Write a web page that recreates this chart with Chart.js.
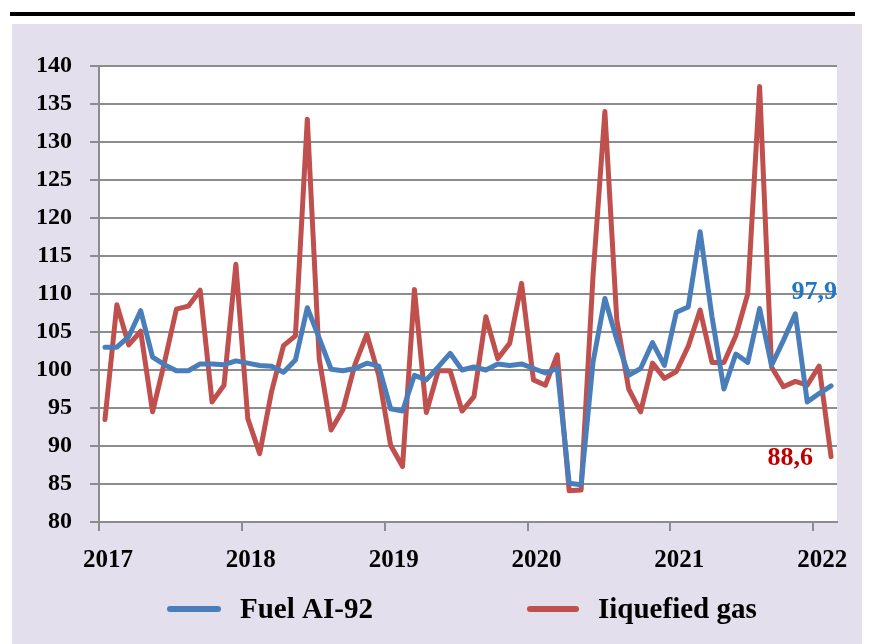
<!DOCTYPE html>
<html>
<head>
<meta charset="utf-8">
<script src="https://cdn.jsdelivr.net/npm/chart.js@4/dist/chart.umd.min.js"></script>
<style>
  html, body { margin: 0; padding: 0; background: #fff; }
  canvas { display: block; }
</style>
</head>
<body>
<canvas id="c" width="870" height="644"></canvas>
<script>
// monthly index, Jan 2017 .. Feb 2022
const years = ["2017", "2018", "2019", "2020", "2021", "2022"];
const months = [];
years.forEach(y => {
  for (let m = 1; m <= 12; m++) months.push(y + "-" + String(m).padStart(2, "0"));
});
months.length = 62;

const fuel = [
  103.0, 103.0, 104.4, 107.8, 101.7, 100.7, 99.9, 99.9, 100.8, 100.8, 100.7, 101.2,
  100.9, 100.6, 100.5, 99.7, 101.3, 108.2, 104.2, 100.1, 99.9, 100.2, 100.9, 100.5,
  94.9, 94.6, 99.3, 98.7, 100.4, 102.2, 100.0, 100.4, 100.0, 100.8, 100.6, 100.8,
  100.2, 99.6, 100.2, 85.1, 84.9, 101.0, 109.4, 104.0, 99.3, 100.2, 103.6, 100.6,
  107.6, 108.3, 118.2, 107.0, 97.5, 102.1, 101.0, 108.1, 100.6, 103.9, 107.4, 95.8,
  96.9, 97.9
];
const gas = [
  93.5, 108.6, 103.3, 105.1, 94.5, 101.0, 108.0, 108.4, 110.5, 95.8, 98.0, 113.9,
  93.6, 89.0, 97.2, 103.2, 104.5, 133.0, 101.5, 92.1, 94.8, 100.7, 104.7, 99.3,
  90.1, 87.3, 110.6, 94.4, 99.9, 99.9, 94.6, 96.5, 107.0, 101.5, 103.5, 111.4,
  98.7, 98.0, 102.0, 84.1, 84.2, 112.3, 134.0, 106.6, 97.5, 94.5, 100.9, 98.9,
  99.8, 103.1, 107.9, 101.0, 101.0, 104.5, 110.0, 137.3, 100.4, 97.8, 98.5, 98.0,
  100.5, 88.6
];

const serif = "'Liberation Serif', 'Times New Roman', serif";
const gridGray = "#8c8c8c";

const frame = {
  id: "frame",
  beforeDraw(chart) {
    const { ctx, chartArea: a } = chart;
    ctx.save();
    ctx.fillStyle = "#fff";
    ctx.fillRect(0, 0, chart.width, chart.height);
    ctx.fillStyle = "#000";
    ctx.fillRect(10, 12, 845, 4);
    ctx.fillStyle = "#e4dfec";
    ctx.fillRect(12, 24, 850, 620);
    ctx.fillStyle = "#fff";
    ctx.fillRect(a.left, a.top, a.right - a.left, a.bottom - a.top);
    ctx.restore();
  }
};

const endLabels = {
  id: "endLabels",
  afterDatasetsDraw(chart) {
    const ctx = chart.ctx;
    const last = months.length - 1;
    const p0 = chart.getDatasetMeta(0).data[last];
    const p1 = chart.getDatasetMeta(1).data[last];
    ctx.save();
    ctx.font = "bold 26px " + serif;
    ctx.textBaseline = "middle";
    ctx.textAlign = "right";
    ctx.fillStyle = "#1f78c4";
    ctx.fillText(fuel[last].toFixed(1).replace(".", ","), p0.x + 6, p0.y - 94);
    ctx.fillStyle = "#c00000";
    ctx.fillText(gas[last].toFixed(1).replace(".", ","), p1.x - 18, p1.y + 2);
    ctx.restore();
  }
};

const legendBox = {
  id: "legendBox",
  afterDraw(chart) {
    const ctx = chart.ctx;
    const spots = [{ x0: 170, x1: 218, tx: 240 }, { x0: 530, x1: 576, tx: 598 }];
    ctx.save();
    chart.data.datasets.forEach((ds, i) => {
      const s = spots[i];
      ctx.strokeStyle = ds.borderColor;
      ctx.lineWidth = 6;
      ctx.lineCap = "round";
      ctx.beginPath();
      ctx.moveTo(s.x0, 609);
      ctx.lineTo(s.x1, 609);
      ctx.stroke();
      ctx.fillStyle = "#000";
      ctx.font = "bold 29px " + serif;
      ctx.textBaseline = "alphabetic";
      ctx.textAlign = "left";
      ctx.fillText(ds.label, s.tx, 618);
    });
    ctx.restore();
  }
};

new Chart(document.getElementById("c"), {
  type: "line",
  data: {
    labels: months,
    datasets: [
      { label: "Fuel AI-92", data: fuel, borderColor: "#4a7ebb", backgroundColor: "#4a7ebb" },
      { label: "Iiquefied gas", data: gas, borderColor: "#c0504d", backgroundColor: "#c0504d" }
    ]
  },
  options: {
    responsive: false,
    animation: false,
    devicePixelRatio: 1,
    layout: { padding: { top: 66, right: 33, bottom: 62, left: 0 } },
    elements: {
      line: { borderWidth: 5, tension: 0, borderJoinStyle: "round", borderCapStyle: "round" },
      point: { radius: 0, hoverRadius: 0 }
    },
    plugins: { legend: { display: false }, tooltip: { enabled: false } },
    scales: {
      x: {
        type: "category",
        offset: true,
        grid: {
          offset: true,
          drawOnChartArea: false,
          drawTicks: true,
          tickLength: 9,
          lineWidth: 2,
          color: c => (c.index % 12 === 0 ? gridGray : "rgba(0,0,0,0)")
        },
        border: { display: true, color: gridGray, width: 2 },
        ticks: {
          autoSkip: false,
          maxRotation: 0,
          padding: 15,
          labelOffset: 3,
          color: "#000",
          font: { family: serif, size: 25, weight: "bold" },
          callback: (v, i) => (i % 12 === 0 ? years[i / 12] : "")
        },
        afterFit: s => { s.height = 60; }
      },
      y: {
        min: 80,
        max: 140,
        ticks: {
          stepSize: 5,
          padding: 18,
          color: "#000",
          font: { family: serif, size: 24, weight: "bold" }
        },
        grid: { color: gridGray, lineWidth: 2, tickLength: 9 },
        border: { display: true, color: gridGray, width: 2 },
        afterFit: s => { s.width = 99; }
      }
    }
  },
  plugins: [frame, endLabels, legendBox]
});
</script>
</body>
</html>
